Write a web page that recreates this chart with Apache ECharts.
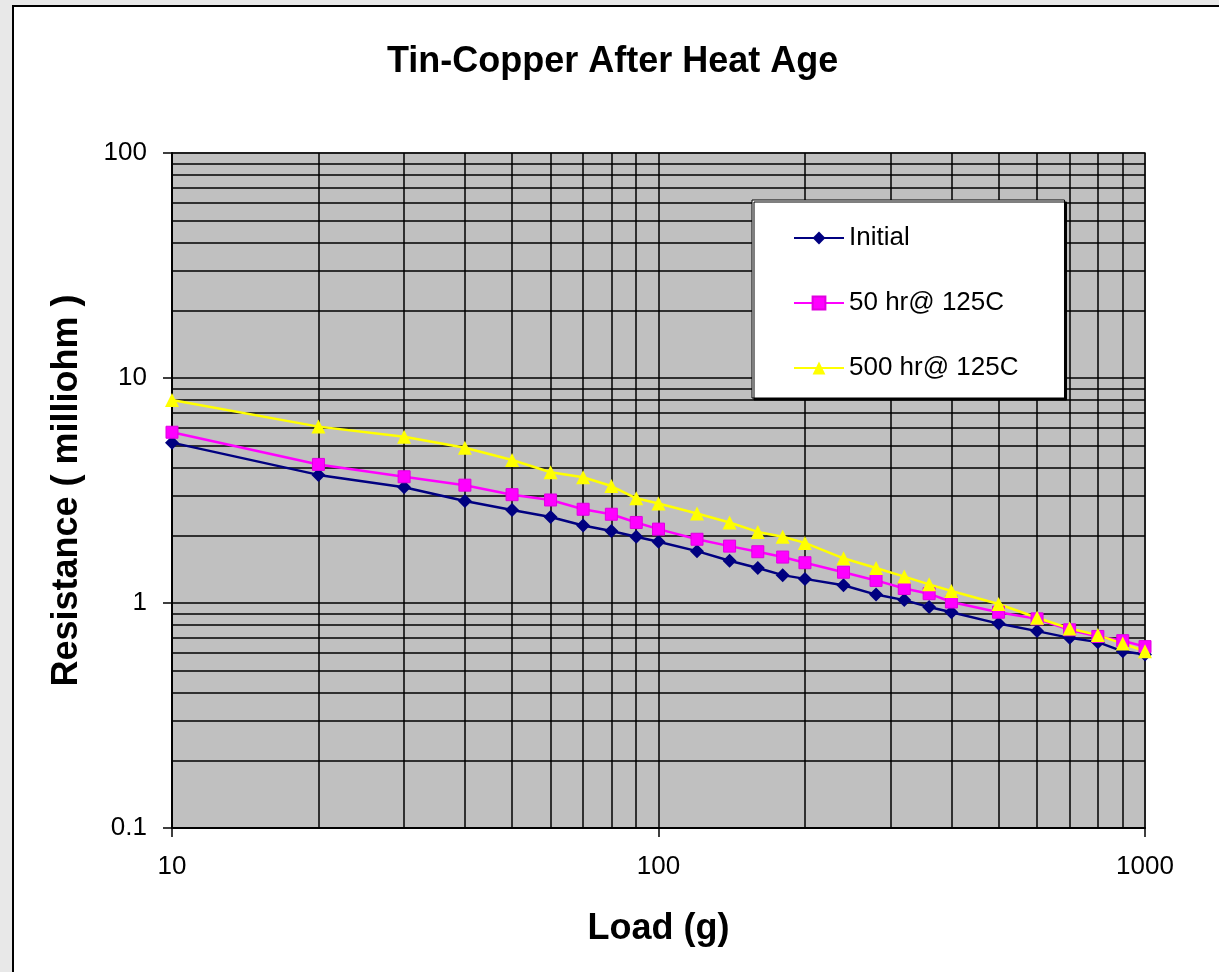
<!DOCTYPE html>
<html>
<head>
<meta charset="utf-8">
<title>Tin-Copper After Heat Age</title>
<style>
    html, body { margin: 0; padding: 0; background: #e8e8e8; overflow: hidden; }
    #frame { position: absolute; left: 12px; top: 5px; width: 1220px; height: 980px;
             background: #fff; border-left: 2px solid #000; border-top: 2px solid #000; }
    #main { position: absolute; left: 0; top: 0; width: 1219px; height: 972px; }
</style>
<script src="https://cdn.jsdelivr.net/npm/echarts@6/dist/echarts.min.js"></script>
</head>
<body>
<div id="frame"></div>
<div id="main"></div>
<script type="text/javascript">
    // load in grams
    var loads = [10, 20, 30, 40, 50, 60, 70, 80, 90, 100, 120, 140, 160, 180, 200,
                 240, 280, 320, 360, 400, 500, 600, 700, 800, 900, 1000];

    // resistance in milliohm
    var initial = [5.16, 3.71, 3.27, 2.84, 2.59, 2.41, 2.21, 2.09, 1.97, 1.87, 1.70, 1.54, 1.43,
                   1.33, 1.28, 1.20, 1.09, 1.03, 0.96, 0.91, 0.81, 0.75, 0.70, 0.67, 0.61, 0.59];
    var hr50 = [5.74, 4.13, 3.64, 3.34, 3.03, 2.87, 2.61, 2.48, 2.28, 2.13, 1.92, 1.79, 1.69,
                1.60, 1.51, 1.37, 1.26, 1.16, 1.10, 1.01, 0.91, 0.85, 0.76, 0.71, 0.68, 0.64];
    var hr500 = [7.98, 6.08, 5.48, 4.90, 4.32, 3.81, 3.62, 3.31, 2.92, 2.77, 2.50, 2.28, 2.07,
                 1.97, 1.85, 1.58, 1.43, 1.31, 1.21, 1.13, 0.99, 0.86, 0.77, 0.72, 0.66, 0.61];

    var seriesNames = ['Initial', '50 hr@ 125C', '500 hr@ 125C'];

    // minor grid lines of the log axes
    var xMinor = [20, 30, 40, 50, 60, 70, 80, 90, 200, 300, 400, 500, 600, 700, 800, 900];
    var yMinor = [0.2, 0.3, 0.4, 0.5, 0.6, 0.7, 0.8, 0.9, 2, 3, 4, 5, 6, 7, 8, 9,
                  20, 30, 40, 50, 60, 70, 80, 90];

    var FONT = "'Liberation Sans', Arial, sans-serif";

    function pairs(vals) {
        var out = [];
        for (var i = 0; i < loads.length; i++) {
            out.push([loads[i], vals[i]]);
        }
        return out;
    }

    // plain numbers, no thousands separator
    function plain(value) {
        return String(+value.toPrecision(6));
    }

    var minorLines = [];
    xMinor.forEach(function (v) { minorLines.push({xAxis: v}); });
    yMinor.forEach(function (v) { minorLines.push({yAxis: v}); });

    var myChart = echarts.init(document.getElementById('main'));

    var option = {
        animation: false,
        backgroundColor: 'transparent',
        title: {
            text: 'Tin-Copper After Heat Age',
            left: 387,
            top: 44,
            padding: 0,
            textStyle: {fontFamily: FONT, fontSize: 36, fontWeight: 'bold', color: '#000'}
        },
        legend: {
            data: seriesNames,
            orient: 'vertical',
            left: 752,
            top: 200,
            padding: [23, 46, 15, 41],
            itemGap: 35,
            itemWidth: 50,
            itemHeight: 16,
            backgroundColor: '#fff',
            borderColor: '#000',
            borderWidth: 1,
            shadowColor: '#000',
            shadowOffsetX: 2,
            shadowOffsetY: 2,
            shadowBlur: 0,
            textStyle: {fontFamily: FONT, fontSize: 26, color: '#000', lineHeight: 30}
        },
        grid: {
            left: 172,
            right: 74,
            top: 153,
            bottom: 144,
            show: true,
            backgroundColor: '#c0c0c0',
            borderColor: '#808080',
            borderWidth: 2
        },
        xAxis: {
            type: 'log',
            logBase: 10,
            min: 10,
            max: 1000,
            name: 'Load (g)',
            nameLocation: 'middle',
            nameGap: 83,
            nameTextStyle: {fontFamily: FONT, fontSize: 36, fontWeight: 'bold', color: '#000'},
            axisLine: {lineStyle: {color: '#000', width: 2}},
            axisTick: {show: true, inside: false, length: 9, lineStyle: {color: '#000', width: 1.5}},
            axisLabel: {fontFamily: FONT, fontSize: 26, color: '#000', margin: 26, formatter: plain},
            splitLine: {show: true, lineStyle: {color: '#000', width: 1.5}}
        },
        yAxis: {
            type: 'log',
            logBase: 10,
            min: 0.1,
            max: 100,
            name: 'Resistance ( milliohm )',
            nameLocation: 'middle',
            nameGap: 87,
            nameTextStyle: {fontFamily: FONT, fontSize: 36, fontWeight: 'bold', color: '#000'},
            axisLine: {lineStyle: {color: '#000', width: 2}},
            axisTick: {show: true, inside: false, length: 9, lineStyle: {color: '#000', width: 1.5}},
            axisLabel: {fontFamily: FONT, fontSize: 26, color: '#000', margin: 25, formatter: plain},
            splitLine: {show: true, lineStyle: {color: '#000', width: 1.5}}
        },
        series: [
            {
                name: 'gridlines',
                type: 'line',
                data: [],
                silent: true,
                markLine: {
                    z: 1,
                    silent: true,
                    symbol: ['none', 'none'],
                    label: {show: false},
                    lineStyle: {color: '#000', width: 1.5, type: 'solid'},
                    emphasis: {disabled: true},
                    data: minorLines
                }
            },
            {
                name: seriesNames[0],
                type: 'line',
                data: pairs(initial),
                symbol: 'diamond',
                symbolSize: 14,
                lineStyle: {color: '#000080', width: 2.5},
                itemStyle: {color: '#000080'}
            },
            {
                name: seriesNames[1],
                type: 'line',
                data: pairs(hr50),
                symbol: 'rect',
                symbolSize: 12,
                lineStyle: {color: '#ff00ff', width: 2.5},
                itemStyle: {color: '#ff00ff', borderColor: '#e000e0', borderWidth: 1}
            },
            {
                name: seriesNames[2],
                type: 'line',
                data: pairs(hr500),
                symbol: 'triangle',
                symbolSize: 14,
                lineStyle: {color: '#ffff00', width: 2.5},
                itemStyle: {color: '#ffff00'}
            }
        ]
    };

    myChart.setOption(option);
</script>
</body>
</html>
